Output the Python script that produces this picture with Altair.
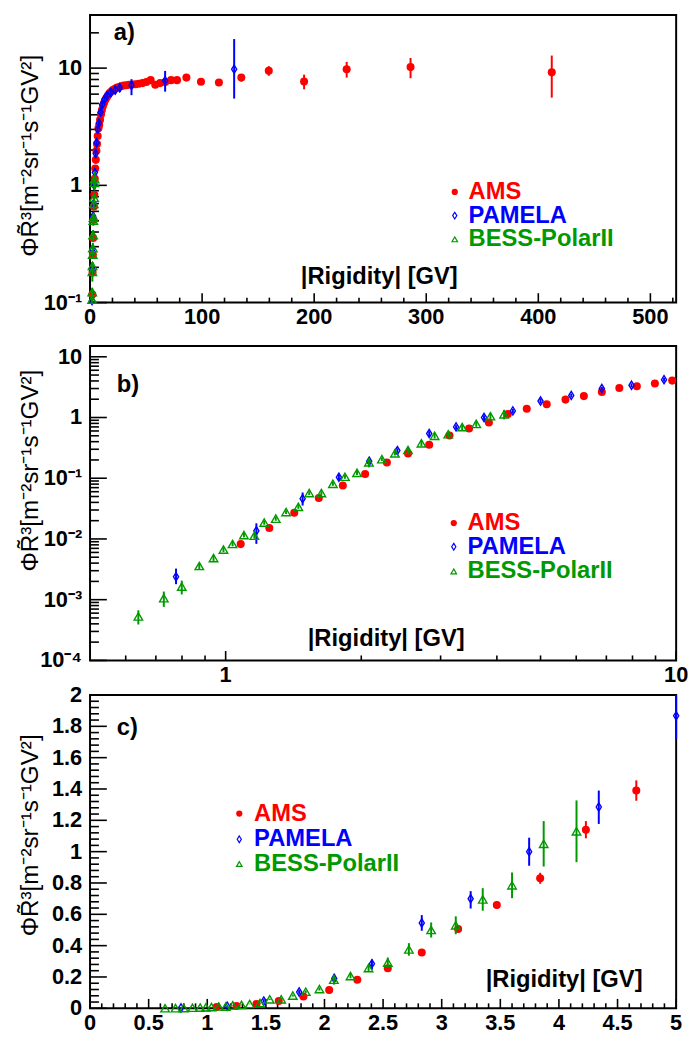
import altair as alt
import pandas as pd

# ---------------- data ----------------
series_names = ["AMS", "PAMELA", "BESS-PolarII"]

ams_r = [1.08, 1.25, 1.42, 1.61, 1.82, 2.04, 2.28, 2.54, 2.83, 3.14, 3.47, 3.84, 4.23, 4.66,
         5.16, 5.68, 6.24, 6.84, 7.48, 8.18, 8.97, 9.8,
         10.6, 11.5, 12.5, 13.5, 14.7, 15.9, 17.3, 18.7, 20.3, 21.9, 23.7, 25.7, 27.7, 29.9,
         32.3, 34.8, 37.5, 40.4, 43.5, 46.8, 50.3, 54.1, 58.2, 62.5, 67.2, 72.3, 77.6,
         86.0, 99.0, 115.0, 135.0, 159.5, 191.0, 229.0, 286.0, 412.0]
ams_v = [0.00826, 0.0152, 0.027, 0.0473, 0.0759, 0.117, 0.182, 0.256, 0.356, 0.506, 0.66, 0.83,
         1.14, 1.39, 1.65, 1.97, 2.25, 2.64, 3.07, 3.27, 3.62, 4.05,
         4.4, 4.75, 5.05, 5.35, 5.6, 5.85, 6.1, 6.3, 6.5, 6.65, 6.8, 6.9, 7.0, 7.1,
         7.15, 7.2, 7.25, 7.3, 7.35, 7.45, 7.6, 7.9, 7.2, 7.45, 7.6, 7.9, 7.9,
         8.3, 7.65, 7.55, 8.3, 9.5, 7.7, 9.8, 10.2, 9.2]
ams_e = [0.0012, 0.0015, 0.002, 0.003, 0.004, 0.005, 0.007, 0.009, 0.012, 0.018, 0.025, 0.035,
         0.055, 0.065, 0.07, 0.08, 0.09, 0.1, 0.11, 0.12, 0.13, 0.14,
         0.15, 0.15, 0.16, 0.16, 0.17, 0.17, 0.18, 0.18, 0.19, 0.19, 0.2, 0.2, 0.21, 0.21,
         0.22, 0.22, 0.23, 0.24, 0.25, 0.26, 0.27, 0.28, 0.29, 0.3, 0.31, 0.33, 0.35,
         0.4, 0.45, 0.5, 0.6, 0.9, 1.1, 1.5, 2.0, 3.6]

pam_r = [0.776, 1.17, 1.482, 1.784, 2.083, 2.405, 2.83, 3.247, 3.746, 4.34,
         5.0, 5.85, 6.84, 7.96, 9.4, 10.9, 12.9, 15.2, 18.5, 22.5,
         26.5, 37.0, 67.0, 128.6]
pam_v = [0.00238, 0.0136, 0.0461, 0.104, 0.19, 0.285, 0.545, 0.70, 1.0, 1.285,
         1.867, 2.31, 3.0, 3.4, 4.2, 4.9, 5.4, 5.8, 6.2, 6.5,
         6.8, 7.15, 7.8, 9.8]
pam_em = [0.00058, 0.0053, 0.0106, 0.012, 0.025, 0.038, 0.05, 0.063, 0.09, 0.108,
          0.147, 0.17, 0.2, 0.25, 0.3, 0.35, 0.4, 0.45, 0.5, 0.5,
          0.55, 1.27, 1.5, 4.3]
pam_ep = [0.00087, 0.0045, 0.0122, 0.012, 0.03, 0.026, 0.05, 0.048, 0.089, 0.105,
          0.2, 0.17, 0.2, 0.25, 0.3, 0.35, 0.4, 0.45, 0.5, 0.5,
          0.55, 0.9, 1.67, 7.9]

bess_r = [0.64, 0.729, 0.799, 0.874, 0.94, 0.989, 1.036, 1.098, 1.158, 1.218,
          1.292, 1.362, 1.45, 1.533, 1.631, 1.73, 1.84, 1.957, 2.08, 2.222,
          2.376, 2.54, 2.72, 2.91, 3.12, 3.35, 3.6, 3.87, 4.15]
bess_v = [0.00053, 0.00106, 0.00164, 0.00359, 0.00484, 0.00668, 0.00826, 0.0116, 0.0113, 0.0186,
          0.0216, 0.0277, 0.0338, 0.057, 0.057, 0.081, 0.106, 0.123, 0.183, 0.206,
          0.257, 0.292, 0.376, 0.5, 0.53, 0.695, 0.785, 1.05, 1.13]
bess_e = [0.00014, 0.0003, 0.00042, 0.0004, 0.0005, 0.0006, 0.0007, 0.001, 0.0012, 0.0015,
          0.0017, 0.002, 0.0025, 0.004, 0.004, 0.006, 0.008, 0.01, 0.032, 0.015,
          0.02, 0.032, 0.04, 0.048, 0.057, 0.072, 0.082, 0.145, 0.197]

# ---------------- styling / layout ----------------
FONT = "Liberation Sans"
RED, BLUE, GREEN = "#ff0000", "#0000ff", "#009900"
DIAMOND = "M0,-1L0.62,0L0,1L-0.62,0Z"
Y_TITLE = "\u03a6R\u0303\u00b3[m\u207b\u00b2sr\u207b\u00b9s\u207b\u00b9GV\u00b2]"
X_TITLE = "|Rigidity| [GV]"
W = 593          # plot width (all panels)
VIEW_H = 1005    # one view holding the three panels
TXT = 24
LAB = 22


def series_df(r, v, em, ep):
    return pd.DataFrame({
        "R": r, "v": v,
        "lo": [a - b for a, b in zip(v, em)],
        "hi": [a + b for a, b in zip(v, ep)],
    })


ams_df = series_df(ams_r, ams_v, ams_e, ams_e)
pam_df = series_df(pam_r, pam_v, pam_em, pam_ep)
bess_df = series_df(bess_r, bess_v, bess_e, bess_e)

SERIES = [
    # df, color, shape, filled, size, strokeWidth, legend size
    (ams_df, RED, "circle", True, 66, 0, 40),
    (pam_df, BLUE, DIAMOND, False, 70, 1.4, 46),
    (bess_df, GREEN, "triangle-up", False, 74, 1.4, 32),
]


def one_row(text=""):
    return alt.Data(values=[{"t": text}])


def mk_scale(kind, domain, rng):
    if kind == "log":
        return alt.Scale(type="log", domain=domain, range=rng, nice=False)
    return alt.Scale(type="linear", domain=domain, range=rng, nice=False, zero=False)


def text_at(text, x, y, color="black", size=TXT, align="left", weight="bold", angle=0):
    kw = dict(font=FONT, fontSize=size, fontWeight=weight, color=color, align=align, baseline="middle")
    if angle:
        kw["angle"] = angle
    return alt.Chart(one_row(text)).mark_text(**kw).encode(
        x=alt.value(x), y=alt.value(y), text="t:N")


def panel(cfg):
    top, bot = cfg["top"], cfg["bot"]
    (x0, x1), (y0, y1) = cfg["xdom"], cfg["ydom"]
    xs = mk_scale(cfg["xtype"], [x0, x1], [0, W])
    ys = mk_scale(cfg["ytype"], [y0, y1], [bot, top])
    L = []
    # frame
    L.append(alt.Chart(one_row()).mark_rect(fillOpacity=0, stroke="black", strokeWidth=2).encode(
        x=alt.value(0), x2=alt.value(W), y=alt.value(top), y2=alt.value(bot)))
    # inward ticks
    for vals, ln in [(cfg["ymaj"], 17), (cfg["ymin"], 9)]:
        L.append(alt.Chart(pd.DataFrame({"t": vals})).mark_rule(color="black", strokeWidth=1.6).encode(
            y=alt.Y("t:Q", scale=ys, axis=None), x=alt.value(0), x2=alt.value(ln)))
    for vals, ln in [(cfg["xmaj"], 9.5), (cfg["xmin"], 5)]:
        L.append(alt.Chart(pd.DataFrame({"t": vals})).mark_rule(color="black", strokeWidth=1.6).encode(
            x=alt.X("t:Q", scale=xs, axis=None), y=alt.value(bot), y2=alt.value(bot - ln)))
    # tick labels
    L.append(alt.Chart(pd.DataFrame({"t": cfg["ylab"], "s": cfg["ytxt"]})).mark_text(
        font=FONT, fontSize=LAB, fontWeight="bold", color="black", align="right", baseline="middle"
    ).encode(y=alt.Y("t:Q", scale=ys, axis=None), x=alt.value(-8), text="s:N"))
    L.append(alt.Chart(pd.DataFrame({"t": cfg["xlab"], "s": cfg["xtxt"]})).mark_text(
        font=FONT, fontSize=LAB, fontWeight="bold", color="black", align="center", baseline="top"
    ).encode(x=alt.X("t:Q", scale=xs, axis=None), y=alt.value(bot + 5), text="s:N"))
    # y title
    L.append(text_at(Y_TITLE, -60, cfg["ytitle_y"], size=24.5, align="center", weight="normal", angle=270))
    # data (kept inside the panel by filtering, error bars cut at the frame)
    for df, color, shape, filled, size, sw, _ in SERIES:
        base = alt.Chart(df)
        L.append(base.transform_filter(
            f"datum.R >= {x0} && datum.R <= {x1} && datum.hi >= {y0} && datum.lo <= {y1}"
        ).transform_calculate(
            lo_c=f"max(datum.lo, {y0})", hi_c=f"min(datum.hi, {y1})"
        ).mark_rule(color=color, strokeWidth=2).encode(
            x=alt.X("R:Q", scale=xs, axis=None),
            y=alt.Y("lo_c:Q", scale=ys, axis=None), y2="hi_c:Q"))
        pk = dict(shape=shape, filled=filled, size=size, color=color, opacity=1)
        if not filled:
            pk["strokeWidth"] = sw
        L.append(base.transform_filter(
            f"datum.R >= {x0} && datum.R <= {x1} && datum.v >= {y0} && datum.v <= {y1}"
        ).mark_point(**pk).encode(
            x=alt.X("R:Q", scale=xs, axis=None),
            y=alt.Y("v:Q", scale=ys, axis=None)))
    # legend
    mx, tx, lys = cfg["legend"]
    for (df, color, shape, filled, size, sw, lsize), name, ly in zip(SERIES, series_names, lys):
        pk = dict(shape=shape, filled=filled, size=lsize, color=color, opacity=1)
        if not filled:
            pk["strokeWidth"] = 1.2
        L.append(alt.Chart(one_row()).mark_point(**pk).encode(x=alt.value(mx), y=alt.value(ly)))
        L.append(text_at(name, tx, ly, color=color))
    # axis title inside the frame and panel label
    L.append(text_at(X_TITLE, cfg["xtitle"][0], cfg["xtitle"][1], align="right"))
    L.append(text_at(cfg["label"][0], cfg["label"][1], cfg["label"][2]))
    return L


# ---------------- panel a ----------------
cfg_a = dict(
    top=0, bot=291, xtype="linear", ytype="log",
    xdom=[0, 523], ydom=[0.1, 28.4],
    xlab=[0, 100, 200, 300, 400, 500], xtxt=["0", "100", "200", "300", "400", "500"],
    ylab=[0.1, 1, 10], ytxt=["10\u207b\u00b9", "1", "10"],
    ymaj=[0.1, 1, 10],
    ymin=[m * 10.0 ** k for k in (-1, 0) for m in range(2, 10)] + [20],
    xmaj=[0, 100, 200, 300, 400, 500],
    xmin=[v for v in range(20, 521, 20) if v % 100],
    legend=(369, 383, [179, 203, 227]),
    xtitle=(372, 265),
    label=("a)", 24, 18),
    ytitle_y=142.5,
)

# ---------------- panel b ----------------
cfg_b = dict(
    top=335, bot=653, xtype="log", ytype="log",
    xdom=[0.5, 10], ydom=[1e-4, 15],
    xlab=[1, 10], xtxt=["1", "10"],
    ylab=[1e-4, 1e-3, 1e-2, 0.1, 1, 10],
    ytxt=["10\u207b\u2074", "10\u207b\u00b3", "10\u207b\u00b2", "10\u207b\u00b9", "1", "10"],
    ymaj=[1e-4, 1e-3, 1e-2, 0.1, 1, 10],
    ymin=[m * 10.0 ** k for k in range(-4, 1) for m in range(2, 10)],
    xmaj=[1, 10],
    xmin=[0.6, 0.7, 0.8, 0.9] + list(range(2, 10)),
    legend=(368, 382, [514, 538, 563]),
    xtitle=(379, 631),
    label=("b)", 27, 374),
    ytitle_y=461,
)

# ---------------- panel c ----------------
c_y = [0, 0.2, 0.4, 0.6, 0.8, 1, 1.2, 1.4, 1.6, 1.8, 2]
c_x = [0, 0.5, 1, 1.5, 2, 2.5, 3, 3.5, 4, 4.5, 5]
cfg_c = dict(
    top=688, bot=1005, xtype="linear", ytype="linear",
    xdom=[0, 5], ydom=[0, 2],
    xlab=c_x, xtxt=["0", "0.5", "1", "1.5", "2", "2.5", "3", "3.5", "4", "4.5", "5"],
    ylab=c_y, ytxt=["0", "0.2", "0.4", "0.6", "0.8", "1", "1.2", "1.4", "1.6", "1.8", "2"],
    ymaj=c_y,
    ymin=[round(0.04 * i, 2) for i in range(51) if i % 5],
    xmaj=c_x,
    xmin=[round(0.1 * i, 1) for i in range(51) if i % 5],
    legend=(151, 166, [808, 834, 859]),
    xtitle=(559, 976),
    label=("c)", 27, 721),
    ytitle_y=830,
)

layers = panel(cfg_a) + panel(cfg_b) + panel(cfg_c)

chart = alt.layer(*layers).resolve_scale(x="independent", y="independent").properties(
    width=W, height=VIEW_H,
    autosize=alt.AutoSizeParams(type="none"),
    padding={"left": 83, "top": 1, "right": 13, "bottom": 26},
).configure_view(stroke="transparent")

chart.save("out.html", embed_options={"renderer": "svg", "actions": False})
